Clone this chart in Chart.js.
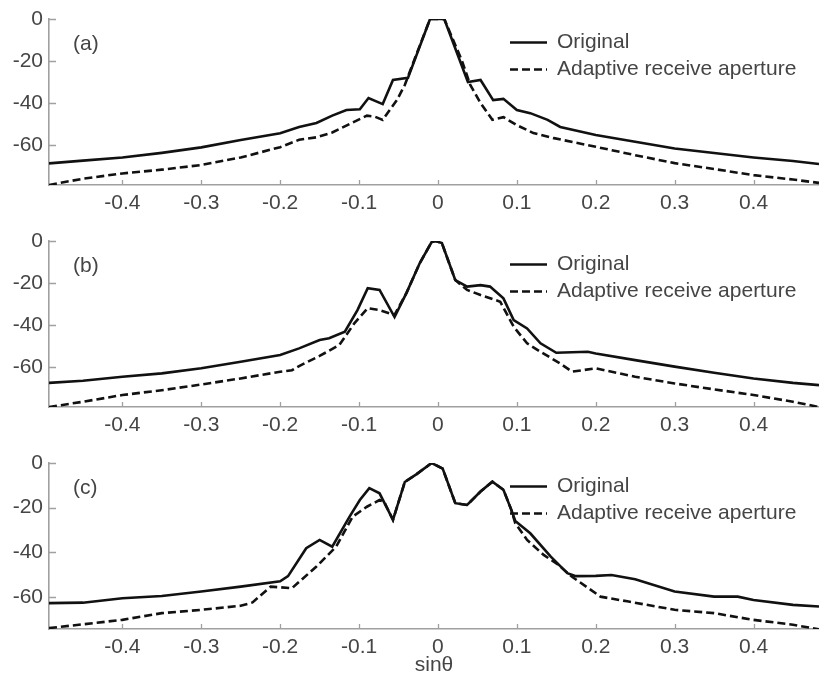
<!DOCTYPE html>
<html>
<head>
<meta charset="utf-8">
<script src="https://cdn.jsdelivr.net/npm/chart.js@4.4.1/dist/chart.umd.min.js"></script>
<style>
  html, body { margin: 0; padding: 0; background: #ffffff; }
  #wrap { position: relative; width: 819px; height: 684px; overflow: hidden; }
  #wrap canvas { position: absolute; left: 0; }
</style>
</head>
<body>
<div id="wrap">
  <canvas id="pa" width="819" height="222" style="top:0px"></canvas>
  <canvas id="pb" width="819" height="222" style="top:222px"></canvas>
  <canvas id="pc" width="819" height="240" style="top:444px"></canvas>
</div>
<script>
// Beam patterns (dB) versus sin(theta), three cases
const xTicks = [-0.4, -0.3, -0.2, -0.1, 0, 0.1, 0.2, 0.3, 0.4];
const xTickLabels = ['-0.4', '-0.3', '-0.2', '-0.1', '0', '0.1', '0.2', '0.3', '0.4'];
const yTicks = [0, -20, -40, -60];
const yTickLabels = ['0', '-20', '-40', '-60'];
const seriesNames = ['Original', 'Adaptive receive aperture'];
const panelTags = ['(a)', '(b)', '(c)'];
const xTitle = 'sin\u03b8';
const xRange = [-0.493, 0.483];
const yFloors = [-79, -79, -74.4];

// (a)
const aOrigX = [-0.493,-0.45,-0.4,-0.35,-0.3,-0.25,-0.2,-0.176,-0.154,-0.134,-0.116,-0.099,-0.088,-0.07,-0.057,-0.038,-0.01,0.008,0.038,0.054,0.07,0.083,0.1,0.117,0.139,0.155,0.2,0.25,0.3,0.35,0.4,0.45,0.483];
const aOrigY = [-68.7,-67.4,-65.9,-63.7,-61.1,-57.6,-54.4,-51.4,-49.5,-46,-43.3,-43,-37.6,-40.5,-29,-28,0,0,-30,-29,-38.6,-38,-43.3,-44.8,-48,-51.4,-55.2,-58.4,-61.6,-63.8,-65.9,-67.6,-69];
const aAdaptX = [-0.493,-0.45,-0.4,-0.35,-0.3,-0.25,-0.2,-0.176,-0.154,-0.134,-0.112,-0.09,-0.08,-0.07,-0.052,-0.042,-0.03,-0.01,0.008,0.03,0.041,0.054,0.069,0.083,0.1,0.121,0.147,0.2,0.25,0.3,0.35,0.4,0.45,0.483];
const aAdaptY = [-79,-76,-73.5,-71.7,-69.5,-65.9,-61,-57.5,-56.3,-54,-50,-46,-46.5,-48,-38.6,-31.4,-19.5,0,0,-19.5,-31.4,-40,-48,-46.7,-50.5,-54.3,-56.7,-60.8,-64.8,-68.6,-71.4,-74.3,-76.4,-78];

// (b)
const bOrigX = [-0.493,-0.45,-0.4,-0.35,-0.3,-0.25,-0.2,-0.176,-0.15,-0.138,-0.118,-0.102,-0.089,-0.074,-0.055,-0.04,-0.023,-0.008,-0.003,0.005,0.022,0.037,0.054,0.066,0.083,0.096,0.113,0.13,0.15,0.19,0.2,0.25,0.3,0.35,0.4,0.45,0.483];
const bOrigY = [-67.5,-66.5,-64.6,-63,-60.6,-57.5,-54.3,-51.1,-47.1,-46.3,-43.2,-32.9,-22.5,-23.3,-36.2,-24.8,-10.5,-0.5,0,-1,-18.6,-21.7,-21,-21.7,-27.3,-37.6,-41.6,-48.7,-53.2,-52.7,-53.5,-56.7,-59.8,-62.7,-65.4,-67.5,-68.6];
const bAdaptX = [-0.493,-0.45,-0.4,-0.35,-0.3,-0.25,-0.2,-0.185,-0.176,-0.15,-0.125,-0.106,-0.089,-0.074,-0.055,-0.04,-0.023,-0.008,-0.003,0.005,0.022,0.037,0.054,0.079,0.096,0.113,0.13,0.155,0.17,0.2,0.25,0.3,0.35,0.4,0.45,0.483];
const bAdaptY = [-79,-76.5,-73.3,-71,-68.3,-65.4,-62.2,-61.5,-59.5,-54.7,-49.5,-39.2,-32,-32.9,-35.2,-24.8,-10.5,-0.5,0,-1,-18.6,-23.3,-25.7,-28.9,-40.8,-48.7,-52.7,-58.3,-62.2,-60.6,-64.6,-67.8,-70.6,-73.3,-76.5,-79];

// (c)
const cOrigX = [-0.493,-0.45,-0.4,-0.35,-0.3,-0.25,-0.2,-0.19,-0.167,-0.15,-0.134,-0.112,-0.099,-0.087,-0.074,-0.057,-0.042,-0.027,-0.008,0.006,0.022,0.037,0.054,0.069,0.083,0.093,0.098,0.117,0.143,0.164,0.175,0.2,0.22,0.25,0.3,0.35,0.38,0.4,0.45,0.483];
const cOrigY = [-62.8,-62.6,-60.6,-59.6,-57.6,-55.4,-53,-50.7,-38.2,-34.5,-37.5,-24,-16.6,-11.3,-13.6,-25.5,-8.5,-5,0,-2.5,-18,-18.8,-12.8,-8.4,-12,-21,-26,-31.5,-42,-49.4,-50.7,-50.6,-50.2,-52.1,-57.6,-59.9,-59.9,-61.4,-63.6,-64.3];
const cAdaptX = [-0.493,-0.45,-0.4,-0.35,-0.3,-0.25,-0.235,-0.212,-0.185,-0.154,-0.129,-0.108,-0.09,-0.074,-0.068,-0.057,-0.042,-0.027,-0.008,0.006,0.022,0.037,0.054,0.069,0.083,0.093,0.098,0.113,0.134,0.152,0.17,0.206,0.24,0.3,0.35,0.4,0.45,0.483];
const cAdaptY = [-74,-72.3,-70.3,-67.3,-65.8,-64,-62.5,-55.4,-56.1,-46.4,-37.5,-24,-19.6,-16.6,-17.5,-25.5,-8.5,-5,0,-2.5,-18,-18.8,-12.8,-8.4,-12,-21,-27,-34.5,-41.2,-45.5,-51,-59.9,-62,-65.8,-67.3,-70.3,-72.5,-74.5];

const TEXT = '#454545';
const AXIS = '#a0a0a0';
const LINE = '#111111';
const FONT_FAMILY = '"Liberation Sans", Arial, Helvetica, sans-serif';
const FONT_SIZE = 21;

Chart.defaults.font.family = FONT_FAMILY;
Chart.defaults.font.size = FONT_SIZE;
Chart.defaults.color = TEXT;

const pts = (xs, ys) => xs.map((x, i) => ({ x: x, y: ys[i] }));

// inward tick marks, panel tag and legend
const decor = {
  id: 'decor',
  afterDraw(chart, args, opts) {
    const { ctx, chartArea: a, scales: { x, y } } = chart;
    ctx.save();
    ctx.strokeStyle = AXIS;
    ctx.lineWidth = 1.3;
    ctx.beginPath();
    x.ticks.forEach(t => {
      const px = Math.round(x.getPixelForValue(t.value)) + 0.5;
      ctx.moveTo(px, a.bottom);
      ctx.lineTo(px, a.bottom - 5);
    });
    y.ticks.forEach(t => {
      const py = Math.round(y.getPixelForValue(t.value)) + 0.5;
      ctx.moveTo(a.left, py);
      ctx.lineTo(a.left + 7, py);
    });
    ctx.stroke();

    ctx.fillStyle = TEXT;
    ctx.font = FONT_SIZE + 'px ' + FONT_FAMILY;
    ctx.textBaseline = 'middle';
    ctx.textAlign = 'left';
    ctx.fillText(opts.tag, 73, 44);

    chart.data.datasets.forEach((ds, i) => {
      const yy = 42.5 + i * 27;
      ctx.strokeStyle = ds.borderColor;
      ctx.lineWidth = ds.borderWidth;
      ctx.setLineDash(ds.borderDash || []);
      ctx.beginPath();
      ctx.moveTo(510, yy);
      ctx.lineTo(547, yy);
      ctx.stroke();
      ctx.setLineDash([]);
      ctx.fillText(ds.label, 557, yy);
    });
    ctx.restore();
  }
};

function makePanel(id, idx, ox, oy, ax, ay, withTitle) {
  const cv = document.getElementById(id);
  const axisH = cv.height - 185;
  return new Chart(cv, {
    type: 'line',
    data: {
      datasets: [
        { label: seriesNames[0], data: pts(ox, oy), borderColor: LINE, borderWidth: 2.6,
          pointRadius: 0, fill: false, tension: 0 },
        { label: seriesNames[1], data: pts(ax, ay), borderColor: LINE, borderWidth: 2.6,
          borderDash: [8, 4], pointRadius: 0, fill: false, tension: 0 }
      ]
    },
    options: {
      responsive: false,
      animation: false,
      events: [],
      layout: { padding: { top: 19, left: 0, right: 0, bottom: 0 } },
      plugins: { legend: { display: false }, tooltip: { enabled: false }, decor: { tag: panelTags[idx] } },
      scales: {
        x: {
          type: 'linear',
          min: xRange[0], max: xRange[1],
          grid: { display: false, drawTicks: false },
          border: { display: true, color: AXIS, width: 1.6 },
          afterBuildTicks: s => { s.ticks = xTicks.map(v => ({ value: v })); },
          afterFit: s => { s.height = axisH; },
          ticks: {
            padding: 6, color: TEXT, maxRotation: 0, autoSkip: false,
            callback: (v, i) => xTickLabels[xTicks.indexOf(v)]
          },
          title: { display: withTitle, text: xTitle, color: TEXT,
                   font: { size: FONT_SIZE }, padding: { top: 0, bottom: 6 } }
        },
        y: {
          type: 'linear',
          min: yFloors[idx], max: 0,
          grid: { display: false, drawTicks: false },
          border: { display: true, color: AXIS, width: 1.6 },
          afterBuildTicks: s => { s.ticks = yTicks.map(v => ({ value: v })); },
          afterFit: s => { s.width = 49; },
          ticks: {
            padding: 6, color: TEXT, autoSkip: false,
            callback: (v) => yTickLabels[yTicks.indexOf(v)]
          }
        }
      }
    },
    plugins: [decor]
  });
}

makePanel('pa', 0, aOrigX, aOrigY, aAdaptX, aAdaptY, false);
makePanel('pb', 1, bOrigX, bOrigY, bAdaptX, bAdaptY, false);
makePanel('pc', 2, cOrigX, cOrigY, cAdaptX, cAdaptY, true);
</script>
</body>
</html>
